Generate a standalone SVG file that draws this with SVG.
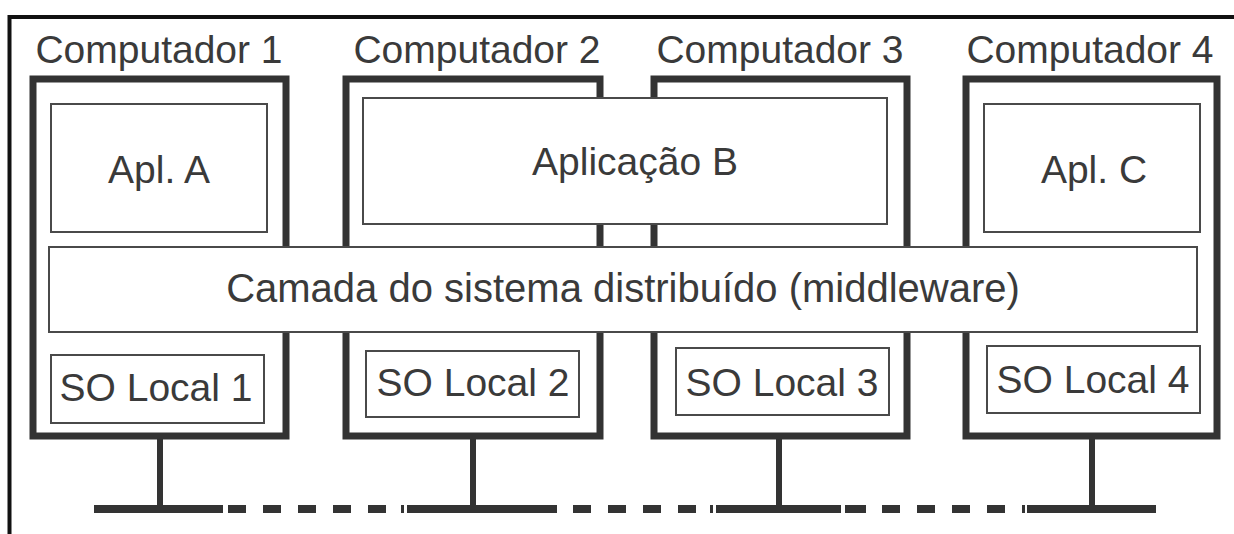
<svg xmlns="http://www.w3.org/2000/svg" width="1234" height="534" viewBox="0 0 1234 534">
<style>
  text { font-family: "Liberation Sans", Arial, Helvetica, sans-serif; font-size: 39px; fill: #3a3a3a; text-anchor: middle; }
  .comp { fill: #ffffff; stroke: #333333; stroke-width: 7; }
  .box { fill: #ffffff; stroke: #4a4a4a; stroke-width: 2; }
  .bus { stroke: #333333; stroke-width: 8; fill: none; }
  .stem { stroke: #333333; stroke-width: 6; fill: none; }
  .dash { stroke: #333333; stroke-width: 8; stroke-dasharray: 18 17; fill: none; }
</style>
<rect width="1234" height="534" fill="#ffffff"/>
<!-- outer frame -->
<path d="M 9.5 534 L 9.5 17 L 1234 17" fill="none" stroke="#111111" stroke-width="4"/>

<g id="connectors">
  <line class="stem" x1="160" y1="436" x2="160" y2="509"/>
  <line class="stem" x1="473" y1="436" x2="473" y2="509"/>
  <line class="stem" x1="779" y1="436" x2="779" y2="509"/>
  <line class="stem" x1="1092" y1="436" x2="1092" y2="509"/>
  <line class="bus" x1="94" y1="509" x2="223" y2="509"/>
  <line class="dash" x1="228" y1="509" x2="386" y2="509"/>
  <line class="bus" x1="401" y1="509" x2="404" y2="509"/>
  <line class="bus" x1="407" y1="509" x2="557" y2="509"/>
  <line class="dash" x1="573" y1="509" x2="696" y2="509"/>
  <line class="bus" x1="710" y1="509" x2="713" y2="509"/>
  <line class="bus" x1="716" y1="509" x2="841" y2="509"/>
  <line class="bus" x1="845" y1="509" x2="866" y2="509"/>
  <line class="dash" x1="882" y1="509" x2="1007" y2="509"/>
  <line class="bus" x1="1022" y1="509" x2="1025" y2="509"/>
  <line class="bus" x1="1027" y1="509" x2="1156" y2="509"/>
</g>

<g id="computador1">
  <rect class="comp" x="33" y="79" width="253" height="357"/>
  <text x="159" y="63">Computador 1</text>
</g>
<g id="computador2">
  <rect class="comp" x="346" y="79" width="254" height="357"/>
  <text x="477" y="63">Computador 2</text>
</g>
<g id="computador3">
  <rect class="comp" x="654" y="79" width="253" height="357"/>
  <text x="780" y="63">Computador 3</text>
</g>
<g id="computador4">
  <rect class="comp" x="966" y="79" width="251" height="357"/>
  <text x="1090" y="63">Computador 4</text>
</g>

<g id="apl-a">
  <rect class="box" x="51" y="104" width="216" height="128"/>
  <text x="159" y="183">Apl. A</text>
</g>
<g id="aplicacao-b">
  <rect class="box" x="363" y="98" width="524" height="126"/>
  <text x="635" y="175">Aplicação B</text>
</g>
<g id="apl-c">
  <rect class="box" x="984" y="104" width="216" height="128"/>
  <text x="1094" y="183">Apl. C</text>
</g>

<g id="middleware">
  <rect class="box" x="49" y="247" width="1148" height="85"/>
  <text x="623" y="302" style="font-size:40px">Camada do sistema distribuído (middleware)</text>
</g>

<g id="so-local-1">
  <rect class="box" x="51" y="355" width="213" height="68"/>
  <text x="156" y="401">SO Local 1</text>
</g>
<g id="so-local-2">
  <rect class="box" x="366" y="351" width="213" height="66"/>
  <text x="473" y="396">SO Local 2</text>
</g>
<g id="so-local-3">
  <rect class="box" x="676" y="348" width="213" height="67"/>
  <text x="782" y="396">SO Local 3</text>
</g>
<g id="so-local-4">
  <rect class="box" x="987" y="346" width="213" height="67"/>
  <text x="1093" y="393">SO Local 4</text>
</g>
</svg>
